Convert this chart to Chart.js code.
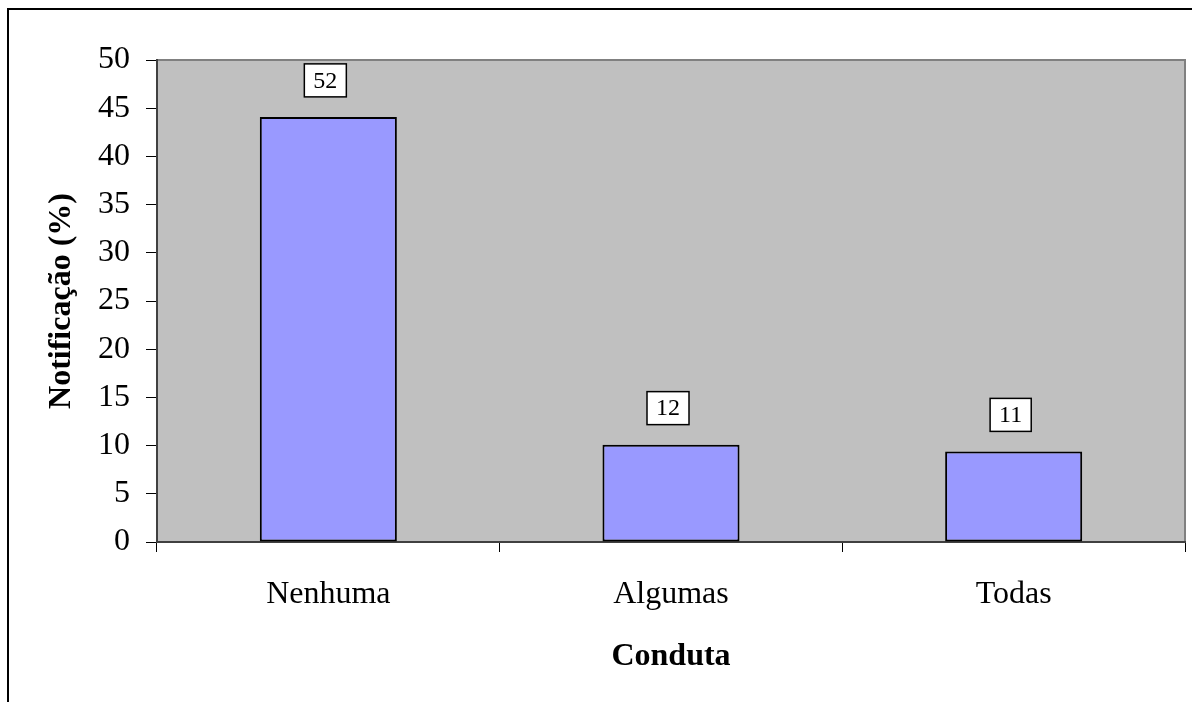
<!DOCTYPE html>
<html>
<head>
<meta charset="utf-8">
<script src="https://cdn.jsdelivr.net/npm/chart.js@4/dist/chart.umd.min.js"></script>
<style>
  html, body { margin: 0; padding: 0; background: #fff; }
  #wrap { width: 1192px; height: 702px; position: relative; }
</style>
</head>
<body>
<div id="wrap"><canvas id="bar-conduta" width="1192" height="702"></canvas></div>
<script>
var categories = ["Nenhuma", "Algumas", "Todas"];
var percentages = [44.1, 10.1, 9.4];
var counts = [52, 12, 11];
var yTicks = [0, 5, 10, 15, 20, 25, 30, 35, 40, 45, 50];

var serif = "'Liberation Serif', 'Times New Roman', serif";

// gray plot background, gray top/right edge and the outer frame
var plotBackground = {
	id: "plotBackground",
	beforeDraw: function (chart) {
		var a = chart.chartArea, c = chart.ctx;
		c.save();
		c.fillStyle = "#fff";
		c.fillRect(0, 0, chart.width, chart.height);
		c.strokeStyle = "#000";
		c.lineWidth = 2;
		c.strokeRect(8, 9, 1300, 800);
		c.fillStyle = "#c0c0c0";
		c.fillRect(a.left, a.top, a.right - a.left, a.bottom - a.top);
		c.strokeStyle = "#808080";
		c.lineWidth = 2;
		c.beginPath();
		c.moveTo(a.left, a.top);
		c.lineTo(a.right, a.top);
		c.lineTo(a.right, a.bottom);
		c.stroke();
		c.restore();
	}
};

// boxed count labels above each bar
var boxLabels = {
	id: "boxLabels",
	afterDatasetsDraw: function (chart) {
		var c = chart.ctx;
		var meta = chart.getDatasetMeta(0);
		c.save();
		c.font = "24px " + serif;
		c.textAlign = "center";
		c.textBaseline = "middle";
		meta.data.forEach(function (bar, i) {
			var txt = String(counts[i]);
			var w = c.measureText(txt).width + 18;
			var h = 33;
			var cx = bar.x - 3;
			var bottom = bar.y - 20;
			c.fillStyle = "#fff";
			c.fillRect(cx - w / 2, bottom - h, w, h);
			c.strokeStyle = "#000";
			c.lineWidth = 1.5;
			c.strokeRect(cx - w / 2, bottom - h, w, h);
			c.fillStyle = "#000";
			c.fillText(txt, cx, bottom - h / 2 + 1);
		});
		c.restore();
	}
};

var ctx = document.getElementById("bar-conduta");

var chart1 = new Chart(ctx, {
	type: "bar",
	data: {
		labels: categories,
		datasets: [
			{
				data: percentages,
				backgroundColor: "#9999ff",
				borderColor: "#000",
				borderWidth: 2,
				borderSkipped: false,
				categoryPercentage: 1,
				barPercentage: 0.4
			}
		]
	},
	options: {
		responsive: false,
		animation: false,
		devicePixelRatio: 1,
		layout: { padding: { top: 60, right: 7, left: 0, bottom: 0 } },
		plugins: {
			legend: { display: false },
			tooltip: { enabled: false }
		},
		scales: {
			x: {
				grid: {
					offset: true,
					drawOnChartArea: false,
					drawTicks: true,
					tickLength: 10,
					color: "#000"
				},
				border: { display: true, color: "#404040", width: 2 },
				ticks: {
					color: "#000",
					padding: 23,
					font: { family: serif, size: 32 }
				},
				title: {
					display: true,
					text: "Conduta",
					color: "#000",
					padding: { top: 0, bottom: 26 },
					font: { family: serif, size: 32, weight: "bold" }
				},
				afterFit: function (scale) { scale.height = 160; }
			},
			y: {
				min: 0,
				max: 50,
				afterBuildTicks: function (scale) {
					scale.ticks = yTicks.map(function (v) { return { value: v }; });
				},
				grid: {
					drawOnChartArea: false,
					drawTicks: true,
					tickLength: 11,
					color: "#000"
				},
				border: { display: true, color: "#404040", width: 2 },
				ticks: {
					color: "#000",
					padding: 16,
					font: { family: serif, size: 32 }
				},
				title: {
					display: true,
					text: "Notificação (%)",
					color: "#000",
					padding: { top: 43, bottom: 0 },
					font: { family: serif, size: 32, weight: "bold" }
				},
				afterFit: function (scale) { scale.width = 157; }
			}
		}
	},
	plugins: [plotBackground, boxLabels]
});
</script>
</body>
</html>
